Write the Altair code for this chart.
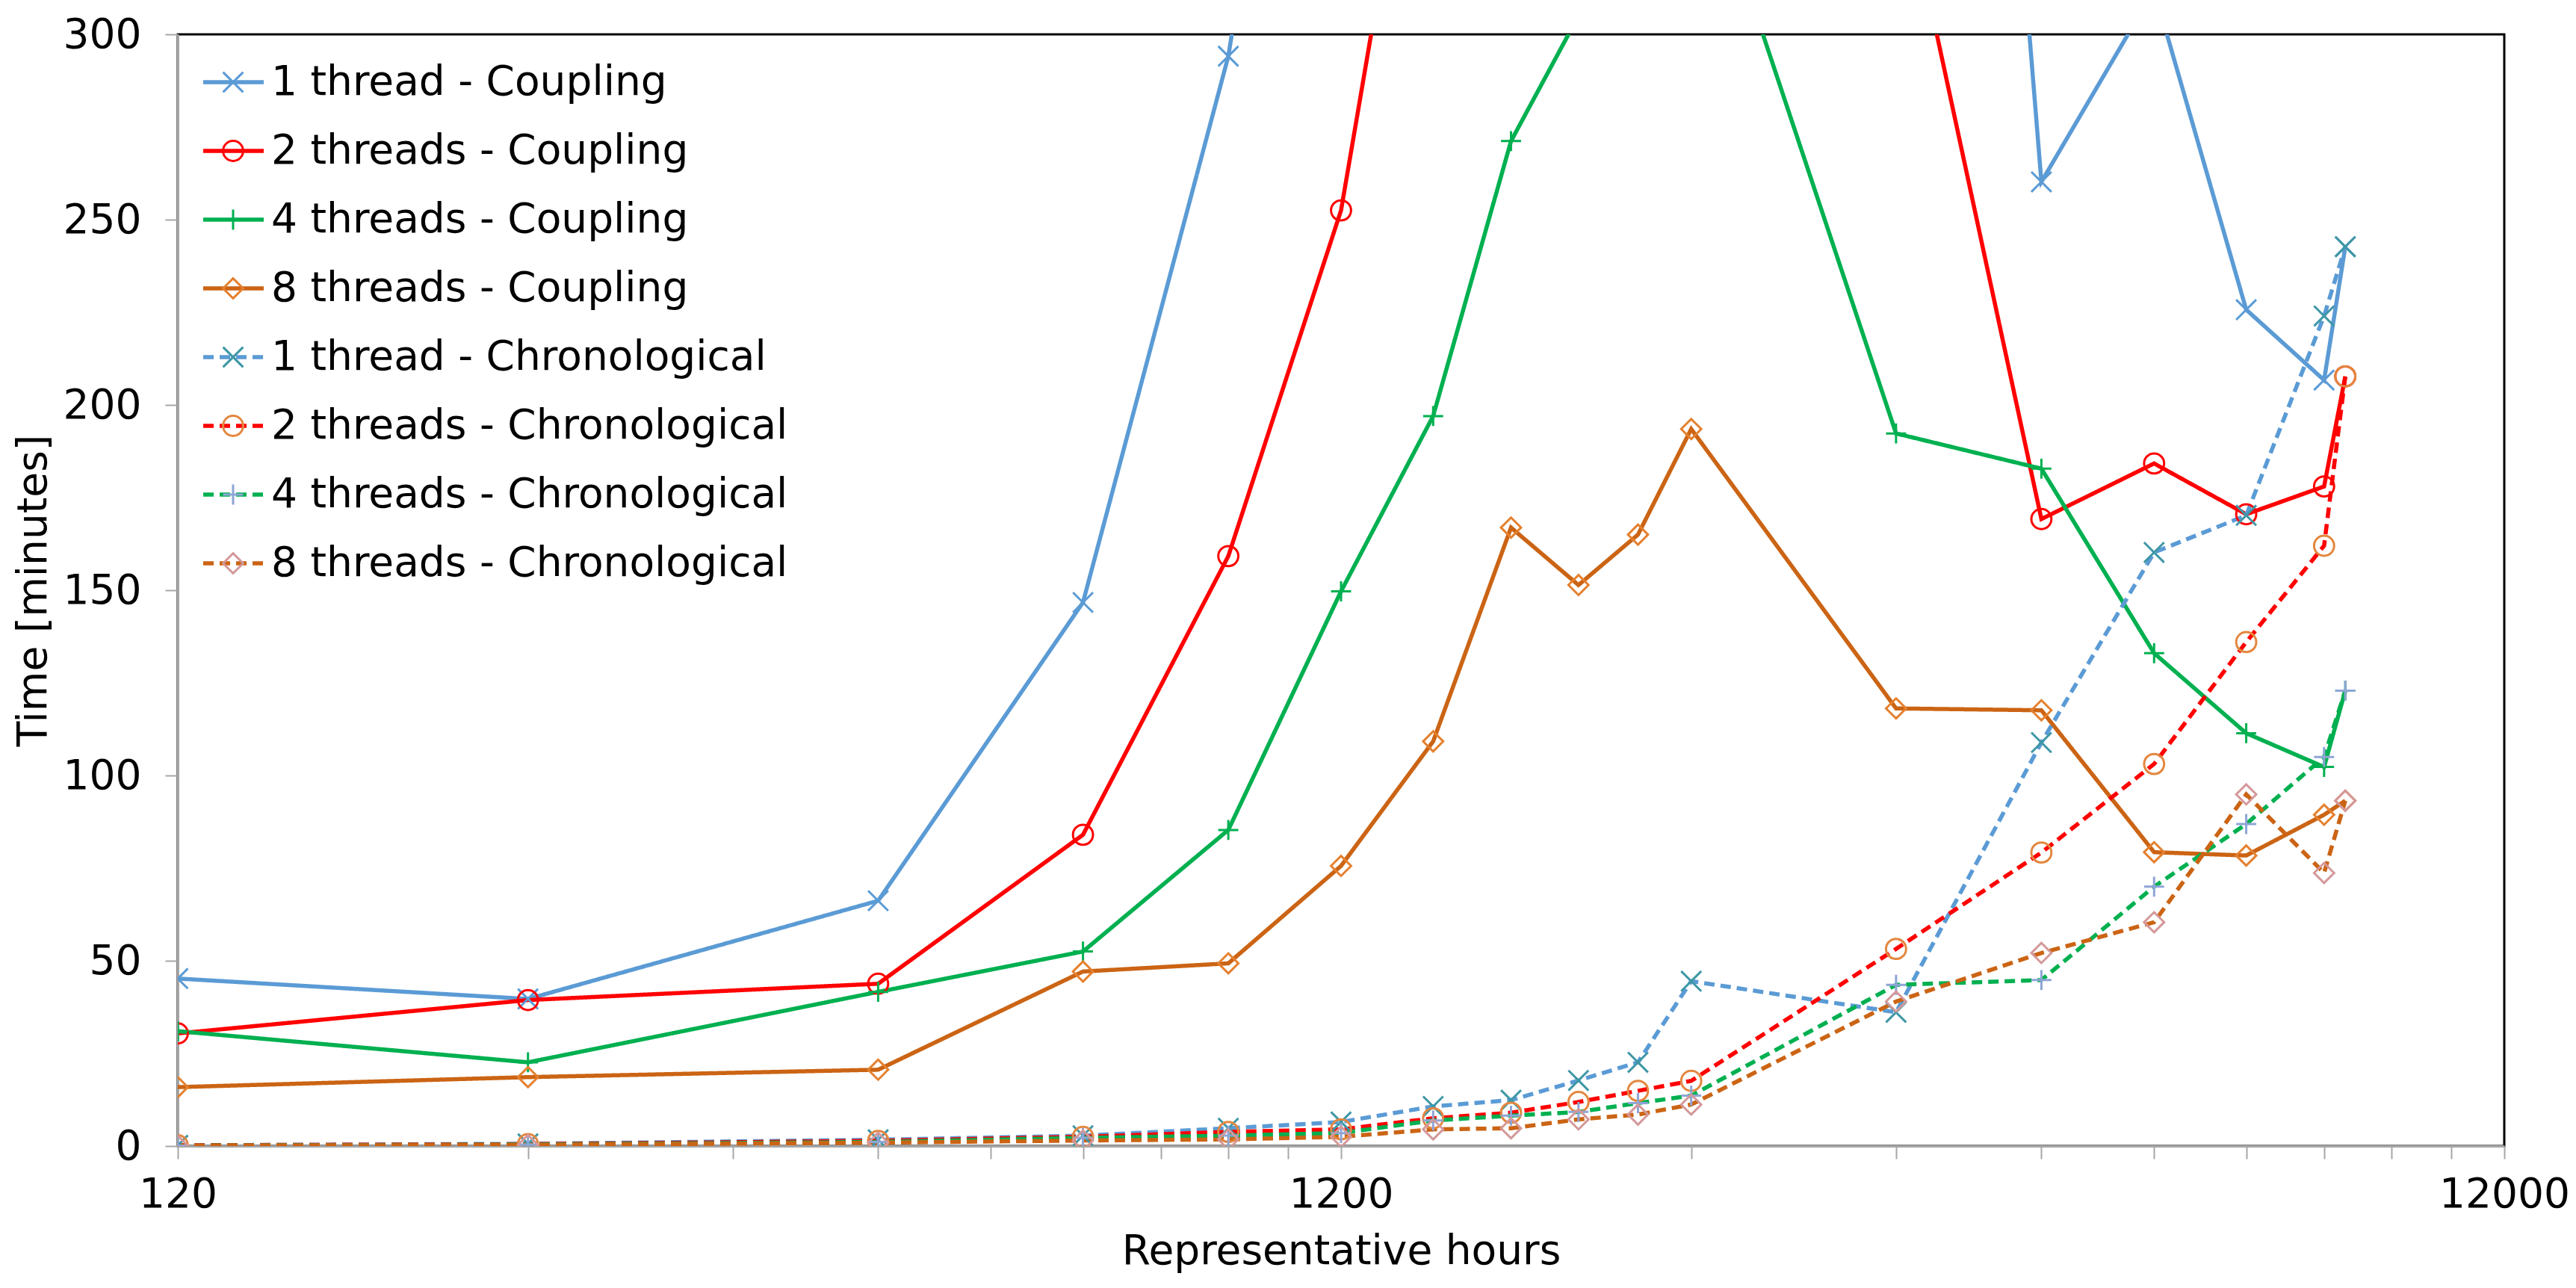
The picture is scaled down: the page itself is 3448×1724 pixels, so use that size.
import altair as alt
import pandas as pd

# ---------------- data ----------------
hours = [120, 240, 480, 720, 960, 1200, 1440, 1680, 1920, 2160, 2400,
         3600, 4800, 6000, 7200, 8400, 8760]

series_names = [
    "1 thread - Coupling",
    "2 threads - Coupling",
    "4 threads - Coupling",
    "8 threads - Coupling",
    "1 thread - Chronological",
    "2 threads - Chronological",
    "4 threads - Chronological",
    "8 threads - Chronological",
]

# None = value lies above the visible range and cannot be estimated
coupling_1 = [45.2, 39.7, 66.2, 146.7, 294.1, 484, None, None, None, None, None,
              744, 260.2, 312, 225.7, 206.7, 242.7]
coupling_2 = [30.4, 39.4, 43.8, 84.0, 159.2, 252.5, 398, None, None, None, None,
              351, 169.2, 184.2, 170.5, 178.0, 207.7]
coupling_4 = [31.0, 22.6, 41.6, 52.5, 85.3, 149.7, 197.0, 271.2, 305, None, 358,
              192.3, 182.8, 133.0, 111.4, 102.3, 122.9]
coupling_8 = [15.9, 18.6, 20.6, 47.1, 49.3, 75.6, 109.2, 166.9, 151.4, 165.0, 193.5,
              118.1, 117.6, 79.3, 78.4, 89.4, 93.2]
chrono_1 = [0.2, 0.6, 1.7, 2.8, 4.8, 6.5, 10.7, 12.4, 17.7, 22.6, 44.5,
            36.1, 108.9, 160.2, 170.2, 224.0, 242.7]
chrono_2 = [0.2, 0.5, 1.4, 2.5, 3.8, 4.5, 7.5, 9.0, 11.9, 14.9, 17.6,
            53.2, 79.2, 103.1, 136.0, 162.0, 207.7]
chrono_4 = [0.1, 0.4, 1.1, 2.2, 2.8, 3.5, 6.9, 8.2, 9.2, 11.6, 13.6,
            43.5, 44.8, 70.0, 86.9, 105.0, 122.9]
chrono_8 = [0.1, 0.3, 0.9, 1.5, 1.8, 2.5, 4.5, 4.8, 7.2, 8.5, 11.2,
            39.0, 52.1, 60.4, 94.9, 73.7, 93.2]

all_values = [coupling_1, coupling_2, coupling_4, coupling_8,
              chrono_1, chrono_2, chrono_4, chrono_8]

x_tick_values = [120, 240, 360, 480, 600, 720, 840, 960, 1080, 1200,
                 2400, 3600, 4800, 6000, 7200, 8400, 9600, 10800, 12000]
x_labels_shown = [120, 1200, 12000]
y_tick_values = [0, 50, 100, 150, 200, 250, 300]

# ---------------- styles ----------------
line_colors = ["#5B9BD5", "#FF0000", "#00B050", "#CB6414",
               "#5B9BD5", "#FF0000", "#00B050", "#CB6414"]
marker_colors = ["#5B9BD5", "#FF0000", "#00B050", "#E5802E",
                 "#3E97A6", "#E3873F", "#8EA5D6", "#D4989A"]
solid = [1, 0]
dashed = [14, 8]
dashes = [solid, solid, solid, solid, dashed, dashed, dashed, dashed]
x_shape = "M-1,-1L1,1M-1,1L1,-1"
plus_shape = "M-1,0L1,0M0,-1L0,1"
shapes = [x_shape, "circle", plus_shape, "diamond",
          x_shape, "circle", plus_shape, "diamond"]

FONT = "DejaVu Sans"
FS = 55
MSIZE = 720
MSTROKE = 3
LSTROKE = 5.5

rows = []
for name, vals in zip(series_names, all_values):
    for h, v in zip(hours, vals):
        if v is not None:
            rows.append({"series": name, "hours": h, "time": v})
df = pd.DataFrame(rows)
leg_df = pd.DataFrame({"series": series_names})

color = alt.Color("series:N", scale=alt.Scale(domain=series_names, range=line_colors), legend=None)
dash = alt.StrokeDash("series:N", scale=alt.Scale(domain=series_names, range=dashes), legend=None)
shape = alt.Shape("series:N", scale=alt.Scale(domain=series_names, range=shapes), legend=None)
stroke = alt.Stroke("series:N", scale=alt.Scale(domain=series_names, range=marker_colors), legend=None)

label_test = " || ".join(f"datum.value == {v}" for v in x_labels_shown)

x_enc = alt.X(
    "hours:Q",
    scale=alt.Scale(type="log", domain=[120, 12000], nice=False),
    axis=alt.Axis(
        values=x_tick_values,
        labelExpr=f"({label_test}) ? format(datum.value, 'd') : ''",
        labelFlush=False, labelOverlap=False,
        tickSize=17, tickColor="#A6A6A6", tickWidth=2,
        domainColor="#A6A6A6", domainWidth=3,
        labelBaseline="middle", labelPadding=47,
        labelFontSize=FS, labelFont=FONT, labelColor="#000000",
        title="Representative hours", titleFontSize=FS, titleFont=FONT,
        titleFontWeight="normal", titleColor="#000000",
        titleY=140, titleBaseline="middle", grid=False,
    ),
)
y_enc = alt.Y(
    "time:Q",
    scale=alt.Scale(domain=[0, 300], nice=False),
    axis=alt.Axis(
        values=y_tick_values,
        tickSize=17, tickColor="#A6A6A6", tickWidth=2,
        domainColor="#A6A6A6", domainWidth=3,
        labelPadding=32, labelFontSize=FS, labelFont=FONT, labelColor="#000000",
        title="Time [minutes]", titleFontSize=FS, titleFont=FONT,
        titleFontWeight="normal", titleColor="#000000",
        titleAngle=270, titleX=-194, titleY=744,
        titleBaseline="middle", titleAlign="center", grid=False,
    ),
)

lines = alt.Chart(df).mark_line(clip=True, strokeWidth=LSTROKE).encode(
    x=x_enc, y=y_enc, color=color, strokeDash=dash, order="hours:Q"
)
points = alt.Chart(df).mark_point(
    clip=True, filled=False, size=MSIZE, strokeWidth=MSTROKE, opacity=1
).encode(x="hours:Q", y="time:Q", shape=shape, stroke=stroke)

main = alt.layer(lines, points)

leg_y = alt.Y("series:N",
              scale=alt.Scale(type="point", domain=series_names, range=[64, 708], padding=0),
              axis=None)
leg_line = alt.Chart(leg_df).mark_rule(strokeWidth=LSTROKE).encode(
    x=alt.value(34), x2=alt.value(115), y=leg_y, color=color, strokeDash=dash
)
leg_pts = alt.Chart(leg_df).mark_point(filled=False, size=MSIZE, strokeWidth=MSTROKE, opacity=1).encode(
    x=alt.value(74), y=leg_y, shape=shape, stroke=stroke
)
leg_txt = alt.Chart(leg_df).mark_text(
    align="left", baseline="middle", fontSize=FS, font=FONT, color="#000000"
).encode(x=alt.value(125), y=leg_y, text="series:N")
legend = alt.layer(leg_line, leg_pts, leg_txt)

chart = alt.layer(main, legend).resolve_scale(y="independent").properties(
    width=3114, height=1488,
    autosize=alt.AutoSizeParams(type="none"),
    padding={"left": 230, "top": 38, "right": 88, "bottom": 170},
).configure(font=FONT).configure_view(stroke="#000000", strokeWidth=3)

chart.save("out.html", embed_options={"renderer": "svg", "actions": False})
